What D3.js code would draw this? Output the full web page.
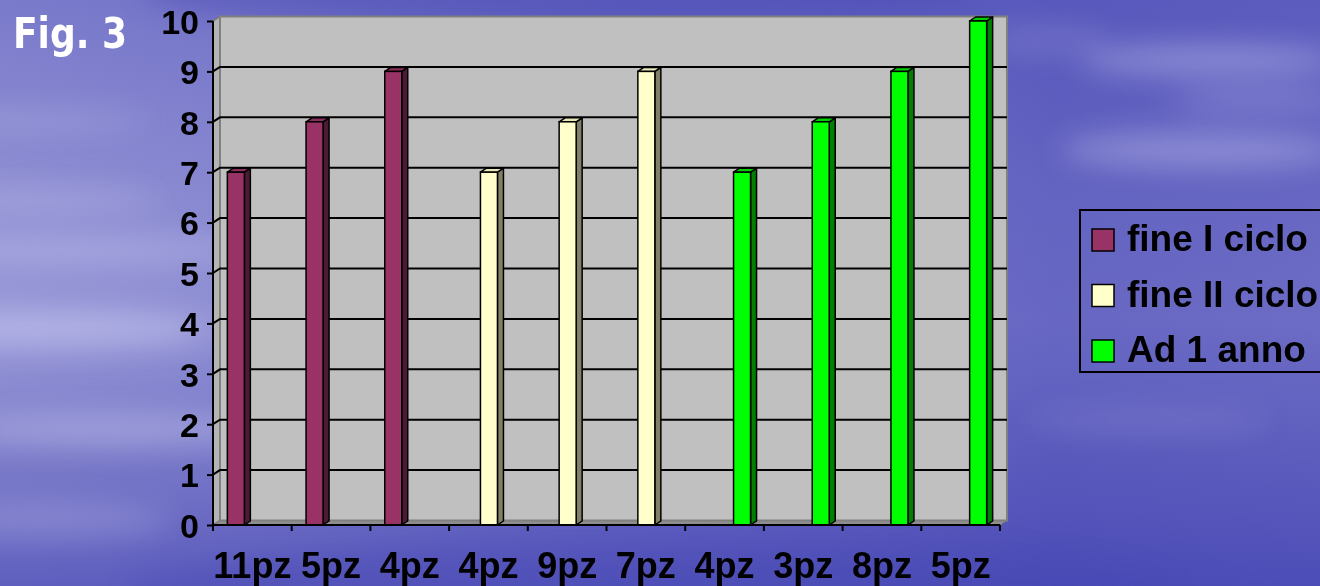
<!DOCTYPE html>
<html>
<head>
<meta charset="utf-8">
<script src="https://cdn.jsdelivr.net/npm/d3@7"></script>
<style>
  html, body { margin: 0; padding: 0; overflow: hidden; background: #6262c2; }
  svg { display: block; }
</style>
</head>
<body>
<svg id="chart" width="1320" height="586"></svg>
<script>
// Chart data
const categories = ["11pz", "5pz", "4pz", "4pz", "9pz", "7pz", "4pz", "3pz", "8pz", "5pz"];
const seriesNames = ["fine I ciclo", "fine II ciclo", "Ad 1 anno"];
const fineICiclo  = [7, 8, 9, null, null, null, null, null, null, null];
const fineIICiclo = [null, null, null, 7, 8, 9, null, null, null, null];
const ad1Anno     = [null, null, null, null, null, null, 7, 8, 9, 10];
const yTickValues = [0, 1, 2, 3, 4, 5, 6, 7, 8, 9, 10];

const seriesValues = [fineICiclo, fineIICiclo, ad1Anno];
const seriesColors = [
  { front: "#993366", top: "#8a2e5c", side: "#4d1a33" },
  { front: "#ffffcc", top: "#e6e6b8", side: "#808066" },
  { front: "#00ff00", top: "#00cc00", side: "#008000" }
];

const W = 1320, H = 586;
const svg = d3.select("#chart");
const defs = svg.append("defs");

// ---------- sky backdrop ----------
const skyV = defs.append("linearGradient").attr("id", "skyV").attr("x1", 0).attr("y1", 0).attr("x2", 0).attr("y2", 1);
[["0%", "#7a7acb"], ["35%", "#9090d4"], ["55%", "#9898d8"], ["78%", "#7c7cca"], ["100%", "#5f5fbf"]]
  .forEach(([o, c]) => skyV.append("stop").attr("offset", o).attr("stop-color", c));
const skyH = defs.append("linearGradient").attr("id", "skyH").attr("x1", 0).attr("y1", 0).attr("x2", 1).attr("y2", 0);
[["0%", "rgba(60,60,180,0)"], ["20%", "rgba(60,60,180,0.1)"], ["50%", "rgba(60,60,180,0.35)"], ["80%", "rgba(55,55,175,0.5)"], ["100%", "rgba(55,55,175,0.45)"]]
  .forEach(([o, c]) => skyH.append("stop").attr("offset", o).attr("stop-color", c));
defs.append("filter").attr("id", "soft").attr("x", "-50%").attr("y", "-50%").attr("width", "200%").attr("height", "200%")
  .append("feGaussianBlur").attr("stdDeviation", 14);

const sky = svg.append("g");
sky.append("rect").attr("width", W).attr("height", H).attr("fill", "url(#skyV)");
sky.append("rect").attr("width", W).attr("height", H).attr("fill", "url(#skyH)");
const clouds = sky.append("g").attr("filter", "url(#soft)");
[
  [60, 330, 150, 18, 0.35], [90, 250, 160, 14, 0.25], [40, 200, 120, 10, 0.25],
  [120, 430, 170, 16, 0.3], [40, 120, 110, 10, 0.18], [1210, 60, 130, 14, 0.35],
  [1200, 150, 140, 18, 0.3], [1260, 100, 90, 10, 0.25], [1150, 420, 120, 12, 0.12],
  [50, 520, 120, 20, 0.18], [1050, 40, 60, 12, 0.15]
].forEach(([cx, cy, rx, ry, op]) =>
  clouds.append("ellipse").attr("cx", cx).attr("cy", cy).attr("rx", rx).attr("ry", ry)
    .attr("fill", "#e8e8ff").attr("opacity", op));
sky.append("ellipse").attr("cx", 560).attr("cy", -10).attr("rx", 420).attr("ry", 40)
  .attr("fill", "#4646b2").attr("opacity", 0.45).attr("filter", "url(#soft)");
sky.append("ellipse").attr("cx", 650).attr("cy", 590).attr("rx", 520).attr("ry", 45)
  .attr("fill", "#4a4ab4").attr("opacity", 0.4).attr("filter", "url(#soft)");

// ---------- 3D plot geometry ----------
const depthX = 7, depthY = -4.5;     // wall depth offset
const barDX = 6, barDY = -4;         // bar depth offset
const axisLeft = 213, axisRight = 1000;

const y = d3.scaleLinear().domain([0, 10]).range([525, 21]);
const x = d3.scaleBand().domain(d3.range(categories.length)).range([axisLeft, axisRight]).paddingInner(0).paddingOuter(0);
const xs = d3.scaleBand().domain(d3.range(seriesNames.length)).range([0, x.bandwidth()]).paddingInner(0).paddingOuter(0.815);

const plot = svg.append("g");
const pts = a => a.map(p => p.join(",")).join(" ");

// left wall
plot.append("polygon")
  .attr("points", pts([[axisLeft, y(0)], [axisLeft, y(10)], [axisLeft + depthX, y(10) + depthY], [axisLeft + depthX, y(0) + depthY]]))
  .attr("fill", "#b4b4b4").attr("stroke", "#7a7a7a").attr("stroke-width", 1.5);
// floor
plot.append("polygon")
  .attr("points", pts([[axisLeft, y(0)], [axisLeft + depthX, y(0) + depthY], [axisRight + depthX, y(0) + depthY], [axisRight, y(0)]]))
  .attr("fill", "#8e8e8e").attr("stroke", "#7a7a7a").attr("stroke-width", 1);
// back wall
plot.append("rect")
  .attr("x", axisLeft + depthX).attr("y", y(10) + depthY)
  .attr("width", axisRight - axisLeft).attr("height", y(0) - y(10))
  .attr("fill", "#c0c0c0").attr("stroke", "#808080").attr("stroke-width", 2);

// gridlines across the left wall and back wall
plot.append("g").selectAll("polyline").data(yTickValues.filter(v => v > 0 && v < 10)).join("polyline")
  .attr("points", v => pts([[axisLeft, y(v)], [axisLeft + depthX, y(v) + depthY], [axisRight + depthX, y(v) + depthY]]))
  .attr("fill", "none").attr("stroke", "#000").attr("stroke-width", 2);

// ---------- bars ----------
const barW = xs.bandwidth();
const barData = [];
seriesValues.forEach((vals, s) => vals.forEach((v, i) => {
  if (v != null) barData.push({ i, s, v });
}));
const bars = plot.append("g").selectAll("g").data(barData).join("g");
const bx = d => x(d.i) + xs(d.s) + 0.5;
bars.append("polygon") // side
  .attr("points", d => pts([[bx(d) + barW, y(d.v)], [bx(d) + barW + barDX, y(d.v) + barDY], [bx(d) + barW + barDX, y(0) + barDY], [bx(d) + barW, y(0)]]))
  .attr("fill", d => seriesColors[d.s].side).attr("stroke", "#000").attr("stroke-width", 1.5).attr("stroke-linejoin", "round");
bars.append("polygon") // top
  .attr("points", d => pts([[bx(d), y(d.v)], [bx(d) + barDX, y(d.v) + barDY], [bx(d) + barW + barDX, y(d.v) + barDY], [bx(d) + barW, y(d.v)]]))
  .attr("fill", d => seriesColors[d.s].top).attr("stroke", "#000").attr("stroke-width", 1.5).attr("stroke-linejoin", "round");
bars.append("rect") // front
  .attr("x", d => bx(d)).attr("y", d => y(d.v)).attr("width", barW).attr("height", d => y(0) - y(d.v))
  .attr("fill", d => seriesColors[d.s].front).attr("stroke", "#000").attr("stroke-width", 1.5);

// ---------- axes ----------
const yAxis = d3.axisLeft(y).tickValues(yTickValues).tickSize(6).tickPadding(9).tickFormat(d3.format("d"));
const gy = svg.append("g").attr("transform", `translate(${axisLeft},0)`).call(yAxis);
gy.select(".domain").attr("stroke", "#000").attr("stroke-width", 2).attr("d", `M0,${y(0)}V${y(10)}`);
gy.selectAll(".tick line").attr("stroke", "#000").attr("stroke-width", 2);
gy.selectAll(".tick text")
  .attr("font-family", "'Liberation Sans', Arial, sans-serif").attr("font-weight", "bold")
  .attr("font-size", 34).attr("fill", "#000").attr("dy", "0.36em").attr("x", -14);

const xAxis = d3.axisBottom(x).tickSize(0).tickPadding(27).tickFormat(i => categories[i]);
const gx = svg.append("g").attr("transform", `translate(0,${y(0)})`).call(xAxis);
gx.select(".domain").attr("stroke", "#000").attr("stroke-width", 2).attr("d", `M${axisLeft},0H${axisRight}`);
gx.selectAll(".tick text")
  .attr("font-family", "'Liberation Sans', Arial, sans-serif").attr("font-weight", "bold")
  .attr("font-size", 36).attr("fill", "#000").attr("dy", "0.71em");
// category boundary ticks
gx.append("g").selectAll("line").data(d3.range(categories.length + 1)).join("line")
  .attr("x1", k => axisLeft + k * x.step()).attr("x2", k => axisLeft + k * x.step())
  .attr("y1", 0).attr("y2", 6).attr("stroke", "#000").attr("stroke-width", 2);

// ---------- legend ----------
const legend = svg.append("g").attr("transform", "translate(1080,210)");
legend.append("rect").attr("x", 0).attr("y", 0).attr("width", 260).attr("height", 162)
  .attr("fill", "none").attr("stroke", "#000").attr("stroke-width", 2);
const items = legend.selectAll("g.item").data(seriesNames).join("g").attr("class", "item")
  .attr("transform", (d, k) => `translate(0,${41 + k * 55.5})`);
items.append("rect").attr("x", 12).attr("y", -22).attr("width", 22).attr("height", 22)
  .attr("fill", (d, k) => seriesColors[k].front).attr("stroke", "#000").attr("stroke-width", 1.5);
items.append("text").attr("x", 47).attr("y", 0).text(d => d)
  .attr("font-family", "'Liberation Sans', Arial, sans-serif").attr("font-weight", "bold")
  .attr("font-size", 37).attr("fill", "#000");

// ---------- title ----------
svg.append("text").attr("x", 13).attr("y", 48).text("Fig. 3")
  .attr("font-family", "'DejaVu Sans', Verdana, sans-serif").attr("font-weight", "bold")
  .attr("font-size", 42).attr("fill", "#fff")
  .attr("textLength", 114).attr("lengthAdjust", "spacingAndGlyphs");
</script>
</body>
</html>
